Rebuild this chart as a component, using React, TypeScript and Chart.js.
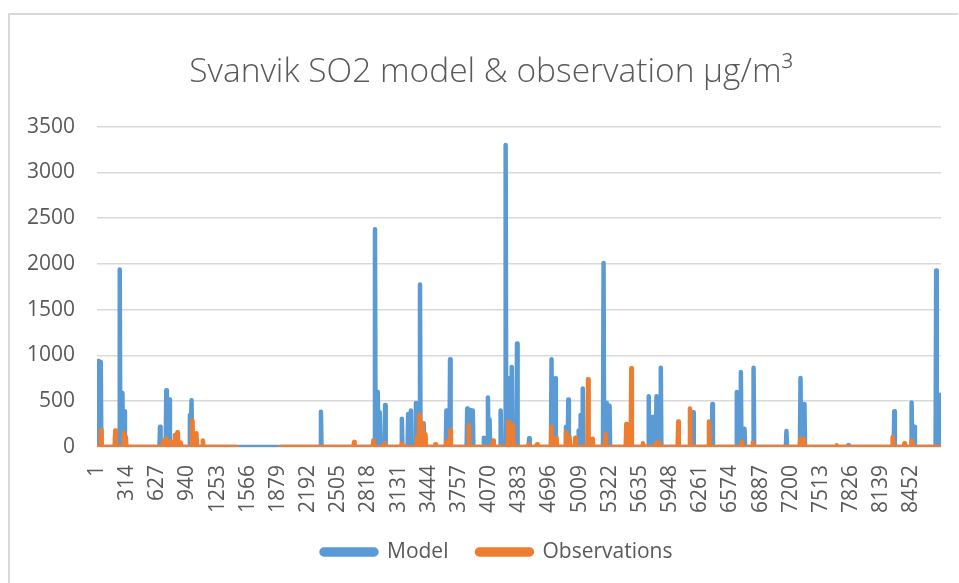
import React, { useEffect, useRef } from "react";
import { Chart, registerables } from "chart.js";

Chart.register(...registerables);

// ---- Data (hour index, µg/m³) ----
const HOURS_TOTAL = 8760;
const xTickLabels = [1, 314, 627, 940, 1253, 1566, 1879, 2192, 2505, 2818, 3131, 3444, 3757, 4070, 4383, 4696, 5009, 5322, 5635, 5948, 6261, 6574, 6887, 7200, 7513, 7826, 8139, 8452];

const modelPeakHours = [12, 40, 237, 265, 285, 655, 720, 752, 965, 982, 2325, 2886, 2915, 2935, 2991, 3165, 3230, 3259, 3311, 3353, 3391, 3627, 3665, 3843, 3877, 3901, 4016, 4058, 4075, 4190, 4242, 4277, 4305, 4360, 4486, 4718, 4757, 4868, 4892, 5000, 5020, 5042, 5258, 5286, 5320, 5727, 5771, 5807, 5852, 6188, 6387, 6641, 6683, 6721, 6815, 7156, 7302, 7343, 7799, 8275, 8455, 8483, 8710, 8748, 8760];
const modelPeakValues = [940, 930, 1940, 590, 390, 220, 620, 520, 350, 510, 385, 2380, 600, 380, 460, 310, 360, 400, 480, 1775, 260, 400, 960, 420, 405, 400, 100, 540, 300, 400, 3300, 750, 875, 1130, 95, 960, 750, 220, 520, 180, 350, 640, 2010, 480, 450, 555, 330, 555, 865, 380, 470, 600, 820, 200, 865, 175, 755, 470, 20, 390, 485, 220, 1930, 570, 300];

const obsSegments = [[1, 1450], [1906, 8760]];
const obsPeakHours = [43, 190, 280, 300, 690, 710, 760, 810, 835, 870, 992, 1033, 1100, 2669, 2870, 2984, 3165, 3320, 3345, 3380, 3410, 3512, 3627, 3668, 3860, 4113, 4270, 4318, 4480, 4568, 4718, 4770, 4868, 4905, 4965, 5097, 5145, 5279, 5494, 5546, 5667, 5807, 5840, 6033, 6155, 6352, 6693, 6808, 7300, 7335, 7678, 8258, 8380, 8455];
const obsPeakValues = [185, 180, 150, 110, 60, 90, 60, 130, 160, 50, 290, 150, 70, 55, 75, 40, 40, 100, 350, 260, 140, 30, 60, 185, 240, 70, 275, 240, 30, 30, 220, 100, 160, 110, 100, 740, 90, 140, 250, 860, 40, 50, 50, 280, 420, 280, 60, 50, 90, 85, 20, 110, 40, 70];

const PEAK_HALF_WIDTH = 6;

type Pt = { x: number; y: number | null };

function buildSeries(segments: number[][], hours: number[], values: number[]): Pt[] {
  const pts: Pt[] = [];
  segments.forEach(([s, e], si) => {
    pts.push({ x: s, y: 0 });
    hours.forEach((h, i) => {
      if (h < s || h > e) return;
      const a = Math.max(s, h - PEAK_HALF_WIDTH);
      const b = Math.min(e, h + PEAK_HALF_WIDTH);
      if (a > pts[pts.length - 1].x) pts.push({ x: a, y: 0 });
      pts.push({ x: h, y: values[i] });
      if (b > h) pts.push({ x: b, y: 0 });
    });
    if (pts[pts.length - 1].x < e) pts.push({ x: e, y: 0 });
    if (si < segments.length - 1) pts.push({ x: (e + segments[si + 1][0]) / 2, y: null });
  });
  return pts;
}

const GRAY = "#595959";
const FONT = "'Open Sans', 'Liberation Sans', sans-serif";

// shift the title and legend boxes so they centre like the reference
const centerShift = {
  id: "centerShift",
  afterLayout(chart: any) {
    if (chart.titleBlock) chart.titleBlock.left += 21;
    if (chart.legend) chart.legend.left += 33;
  },
};

export default function App() {
  const ref = useRef<HTMLCanvasElement | null>(null);

  useEffect(() => {
    if (!ref.current) return;
    const chart = new Chart(ref.current, {
      type: "line",
      data: {
        datasets: [
          {
            label: "Model",
            data: buildSeries([[1, HOURS_TOTAL]], modelPeakHours, modelPeakValues) as any,
            borderColor: "#5B9BD5",
            backgroundColor: "#5B9BD5",
            borderWidth: 4.5,
            pointRadius: 0,
            tension: 0,
            borderJoinStyle: "round",
            borderCapStyle: "round",
            order: 2,
          },
          {
            label: "Observations",
            data: buildSeries(obsSegments, obsPeakHours, obsPeakValues) as any,
            borderColor: "#ED7D31",
            backgroundColor: "#ED7D31",
            borderWidth: 4.5,
            pointRadius: 0,
            tension: 0,
            spanGaps: false,
            borderJoinStyle: "round",
            borderCapStyle: "round",
            order: 1,
          },
        ],
      },
      options: {
        animation: false,
        responsive: false,
        layout: { padding: { left: 20, right: 18, top: 16, bottom: 10.5 } },
        plugins: {
          title: {
            display: true,
            text: "Svanvik SO2 model & observation µg/m³",
            color: GRAY,
            font: { family: FONT, size: 33.5, weight: 300 as any },
            padding: { top: 36, bottom: 34.5 },
          },
          legend: {
            position: "bottom",
            labels: {
              color: GRAY,
              font: { family: FONT, size: 21 },
              boxWidth: 55,
              boxHeight: 5,
              padding: 28.5,
              useBorderRadius: true,
              borderRadius: 2.5,
              sort: (a: any, b: any) => a.datasetIndex - b.datasetIndex,
            },
          },
          tooltip: { enabled: false },
        },
        scales: {
          x: {
            type: "linear",
            min: 1,
            max: HOURS_TOTAL,
            grid: { display: false, drawTicks: false },
            border: { display: false },
            afterBuildTicks: (scale: any) => {
              scale.ticks = xTickLabels.map((v) => ({ value: v }));
            },
            afterFit: (scale: any) => {
              scale.height = 66;
            },
            ticks: {
              autoSkip: false,
              minRotation: 90,
              maxRotation: 90,
              padding: 18,
              color: GRAY,
              font: { family: FONT, size: 21 },
              callback: (v: any) => String(v),
            },
          },
          y: {
            min: 0,
            max: 3500,
            grid: { color: "#d9d9d9", lineWidth: 1.5, drawTicks: false },
            border: { display: false },
            afterFit: (scale: any) => {
              scale.width = 77;
            },
            ticks: {
              stepSize: 500,
              padding: 22,
              color: GRAY,
              font: { family: FONT, size: 21 },
              callback: (v: any) => String(v),
            },
          },
        },
      },
      plugins: [centerShift],
    } as any);
    return () => chart.destroy();
  }, []);

  return (
    <div style={{ position: "absolute", left: 0, top: 0, width: 959, height: 583, overflow: "hidden", background: "#fff" }}>
      <div
        style={{
          position: "absolute",
          left: 8,
          top: 13,
          width: 948,
          height: 700,
          borderTop: "2px solid #d9d9d9",
          borderLeft: "2px solid #d9d9d9",
        }}
      />
      <canvas ref={ref} width={959} height={583} style={{ position: "absolute", left: 0, top: 0 }} />
    </div>
  );
}
